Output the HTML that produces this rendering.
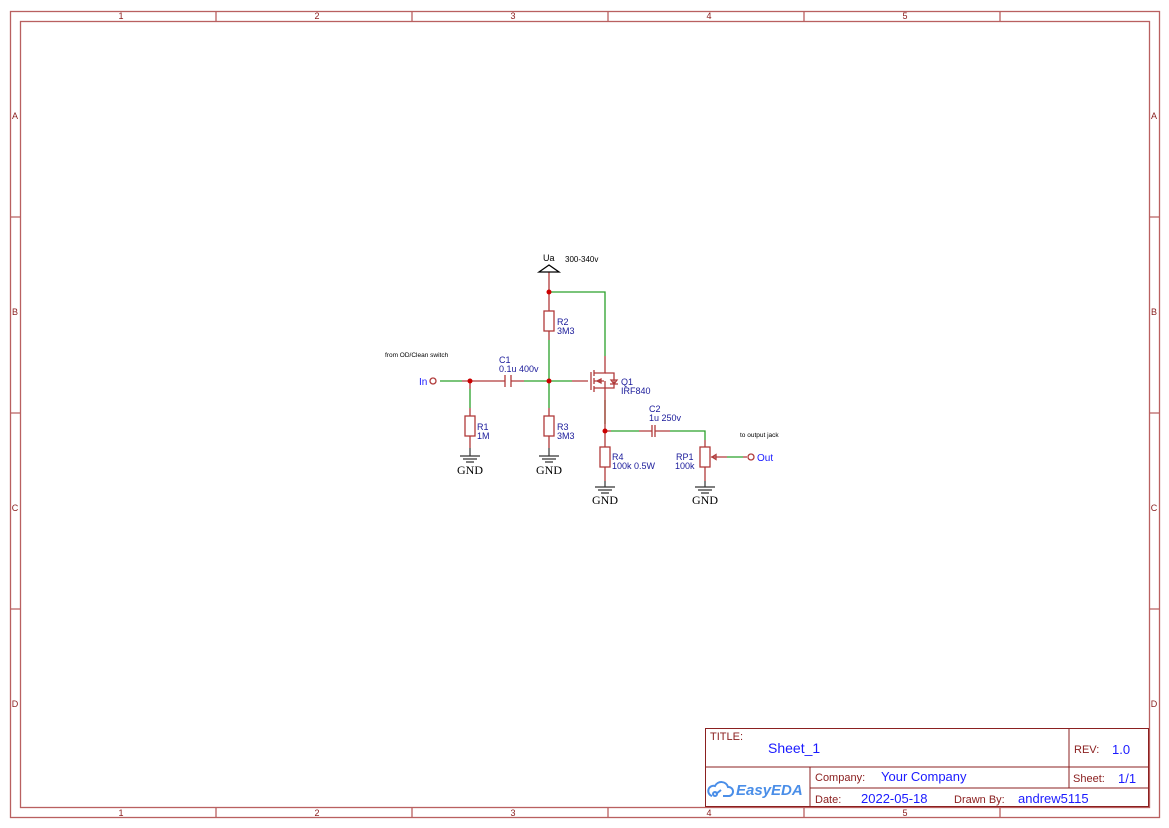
<!DOCTYPE html>
<html><head><meta charset="utf-8"><style>
html,body{margin:0;padding:0;background:#fff;}
svg{display:block;font-family:"Liberation Sans","DejaVu Sans",sans-serif;}
</style></head><body>
<svg width="1169" height="828" viewBox="0 0 1169 828" xmlns="http://www.w3.org/2000/svg">
<g fill="none" stroke="#b96060" stroke-width="1.3">
<rect x="10.5" y="11.5" width="1149" height="806"/>
<rect x="20.5" y="21.5" width="1129" height="786"/>
<path d="M216 11v10M412 11v10M608 11v10M804 11v10M1000 11v10M216 807v11M412 807v11M608 807v11M804 807v11M1000 807v11M10 217h10M10 413h10M10 609h10M1149 217h10M1149 413h10M1149 609h10"/>
</g>
<g fill="#8b2020" font-size="9" text-anchor="middle">
<text x="121" y="19">1</text><text x="317" y="19">2</text><text x="513" y="19">3</text><text x="709" y="19">4</text><text x="905" y="19">5</text>
<text x="121" y="816">1</text><text x="317" y="816">2</text><text x="513" y="816">3</text><text x="709" y="816">4</text><text x="905" y="816">5</text>
<text x="15" y="119">A</text><text x="15" y="315">B</text><text x="15" y="511">C</text><text x="15" y="707">D</text>
<text x="1154" y="119">A</text><text x="1154" y="315">B</text><text x="1154" y="511">C</text><text x="1154" y="707">D</text>
</g>
<!-- title block -->
<g fill="none" stroke="#8b2020" stroke-width="1">
<rect x="705.5" y="728.5" width="443" height="78"/>
<path d="M705 767h444M810 788h339M810 767v40M1069 728v60"/>
</g>
<g font-size="11" fill="#8b2020">
<text x="710" y="740">TITLE:</text>
<text x="1074" y="753">REV:</text>
<text x="815" y="781">Company:</text>
<text x="1073" y="782">Sheet:</text>
<text x="815" y="803">Date:</text>
<text x="954" y="803">Drawn By:</text>
</g>
<g font-size="13" fill="#1a1aff">
<text x="768" y="753" font-size="14">Sheet_1</text>
<text x="1112" y="754">1.0</text>
<text x="881" y="781">Your Company</text>
<text x="1118" y="783">1/1</text>
<text x="861" y="803">2022-05-18</text>
<text x="1018" y="803">andrew5115</text>
</g>
<g stroke="#4a8ee8" stroke-width="2" fill="none"><path d="M712 796 a5 5 0 0 1 3-10 a7 7 0 0 1 13 1 a4 4 0 0 1 1 9 h-6 M716 794 l5-4"/><circle cx="715" cy="794" r="2"/></g>
<text x="736" y="795" font-size="15" font-style="italic" font-weight="bold" fill="#4a8ee8">EasyEDA</text>

<!-- wires green -->
<g stroke="#2aa02a" stroke-width="1.3" fill="none">
<path d="M549 292h56v64M549 340v41M549 381v27M440 381h22M470 389v19M524 381h48M605 400v24M611 431h28M670 431h35v9M727 457h16"/>
</g>
<!-- pins / symbols red -->
<g stroke="#b03a3a" stroke-width="1.3" fill="none">
<path d="M549 272v20M549 292v19M549 331v9M549 408v8M549 436v12"/>
<rect x="544" y="311" width="10" height="20"/><rect x="544" y="416" width="10" height="20"/>
<path d="M462 381h8M470 381v8M470 408v8M470 436v12"/><rect x="465" y="416" width="10" height="20"/>
<path d="M470 381h35M511 381h13M505 375v12M511 375v12"/>
<path d="M572 381h16M591 372v18M594 370v6M594 378v6M594 386v6M594 373h11v-17M594 388h11v12M594 381h10M605 381v7M597 381l4-2v4z M605 400v31M605 431v16M605 467v14"/>
<path d="M605 373h9v15h-9M610 384h8M614 384l-3-4h6z"/>
<rect x="600" y="447" width="10" height="20"/>
<path d="M605 431h6M639 431h13M652 425v12M655 425v12M655 431h15"/>
<path d="M705 440v7M705 467v14"/><rect x="700" y="447" width="10" height="20"/>
<path d="M711 457h16M743 457h4M712 457l4-2.5v5z"/>
<path d="M539 272l10-7 10 7z" stroke="#000"/>
<circle cx="433" cy="381" r="3"/><circle cx="751" cy="457" r="3"/>
</g>
<!-- grounds -->
<g stroke="#333" stroke-width="1.2" fill="none">
<path d="M549 448v8M539 456h20M542 459h14M545 462h8"/>
<path d="M470 448v8M460 456h20M463 459h14M466 462h8"/>
<path d="M605 481v6M595 487h20M598 490h14M601 493h8"/>
<path d="M705 481v6M695 487h20M698 490h14M701 493h8"/>
</g>
<g font-family="Liberation Serif,serif" font-size="12" fill="#000" text-anchor="middle">
<text x="470" y="474">GND</text><text x="549" y="474">GND</text><text x="605" y="504">GND</text><text x="705" y="504">GND</text>
</g>
<g fill="#c00"><circle cx="549" cy="292" r="2.5"/><circle cx="549" cy="381" r="2.5"/><circle cx="470" cy="381" r="2.5"/><circle cx="605" cy="431" r="2.5"/></g>
<g font-size="9" fill="#1a1a9a">
<text x="557" y="325">R2</text><text x="557" y="334">3M3</text>
<text x="557" y="430">R3</text><text x="557" y="439">3M3</text>
<text x="477" y="430">R1</text><text x="477" y="439">1M</text>
<text x="499" y="363">C1</text><text x="499" y="372">0.1u 400v</text>
<text x="621" y="385">Q1</text><text x="621" y="394">IRF840</text>
<text x="649" y="412">C2</text><text x="649" y="421">1u 250v</text>
<text x="612" y="460">R4</text><text x="612" y="469">100k 0.5W</text>
<text x="676" y="460">RP1</text><text x="675" y="469">100k</text>
</g>
<text x="419" y="385" font-size="10" fill="#1a1aff">In</text>
<text x="757" y="461" font-size="10" fill="#1a1aff">Out</text>
<text x="543" y="261" font-size="9" fill="#000">Ua</text>
<text x="565" y="262" font-size="8" fill="#000">300-340v</text>
<text x="385" y="357" font-size="6.5" fill="#000">from OD/Clean switch</text>
<text x="740" y="437" font-size="6.5" fill="#000">to output jack</text>
</svg>
</body></html>
